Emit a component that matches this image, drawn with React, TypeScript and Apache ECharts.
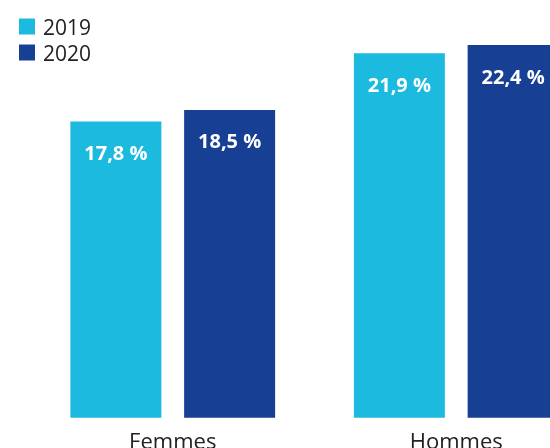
import React, { useEffect, useRef } from "react";
import * as echarts from "echarts";

const categories = ["Femmes", "Hommes"];
const years = ["2019", "2020"];
const values2019 = [17.8, 21.9];
const values2020 = [18.5, 22.4];
const colors = ["#1dbadf", "#173f93"];

const fmt = (v: number) => v.toFixed(1).replace(".", ",") + " %";

export default function App() {
  const ref = useRef<HTMLDivElement>(null);
  useEffect(() => {
    if (!ref.current) return;
    const chart = echarts.init(ref.current, null, { renderer: "svg" });
    const font = "'Open Sans', 'Noto Sans', sans-serif";
    const label = {
      show: true,
      position: "insideTop" as const,
      distance: 21,
      color: "#ffffff",
      fontWeight: "bold" as const,
      fontSize: 20,
      fontFamily: font,
      formatter: (p: any) => fmt(p.value),
    };
    chart.setOption({
      animation: false,
      legend: {
        orient: "vertical",
        left: 14,
        top: 11,
        itemWidth: 16,
        itemHeight: 16,
        itemGap: 5,
        icon: "rect",
        data: years,
        textStyle: { fontSize: 21, fontFamily: font, color: "#222222", padding: [0, 0, 0, 3] },
      },
      grid: { left: 31, width: 567, top: 45, bottom: 30.3, outerBoundsMode: "none", containLabel: false },
      xAxis: {
        type: "category",
        data: categories,
        axisLine: { show: false },
        axisTick: { show: false },
        axisLabel: { fontSize: 22, fontFamily: font, color: "#222222", margin: 11 },
      },
      yAxis: { type: "value", min: 0, max: 22.4, show: false, splitLine: { show: false } },
      series: [
        { name: years[0], type: "bar", data: values2019, barWidth: 91, barGap: "25%", itemStyle: { color: colors[0] }, label },
        { name: years[1], type: "bar", data: values2020, barWidth: 91, barGap: "25%", itemStyle: { color: colors[1] }, label },
      ],
    });
    return () => chart.dispose();
  }, []);
  return <div ref={ref} style={{ position: "fixed", left: 0, top: 0, width: 550, height: 448 }} />;
}
